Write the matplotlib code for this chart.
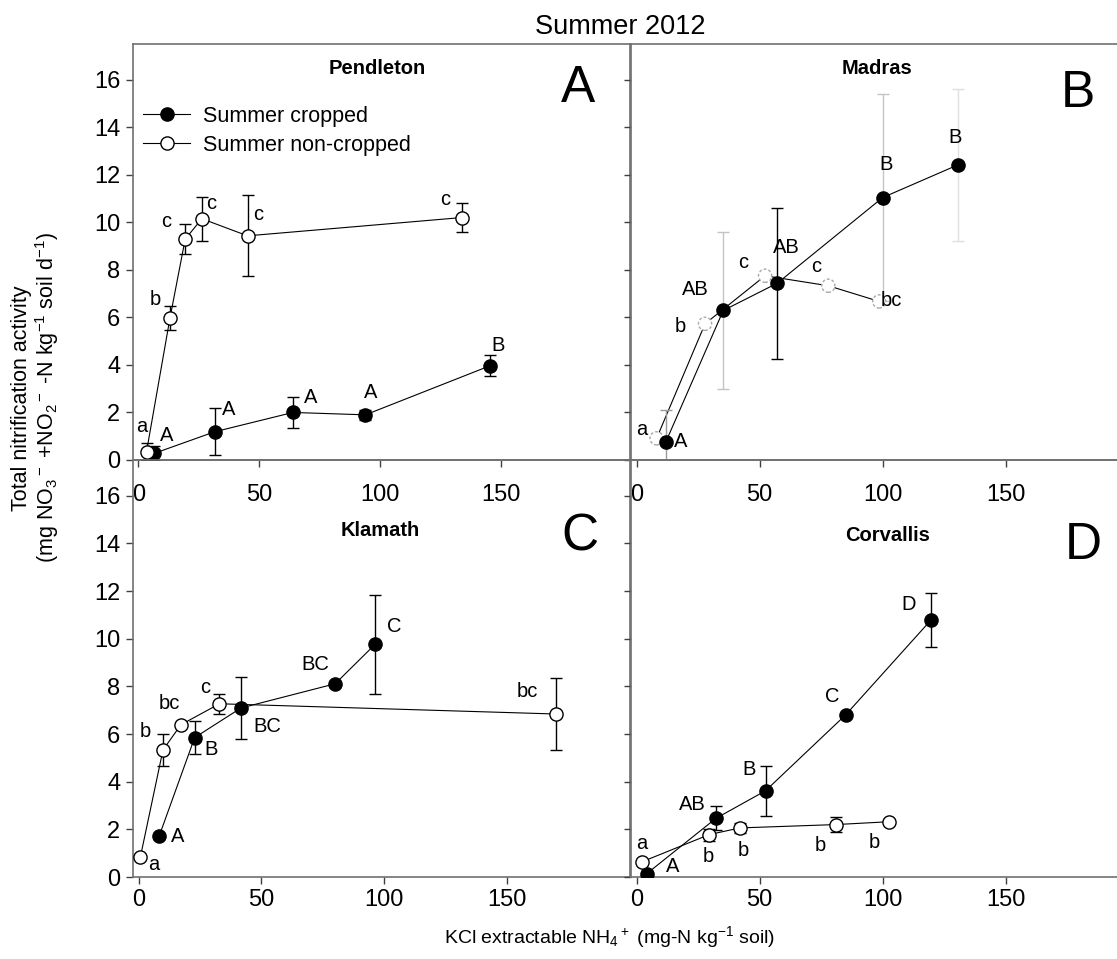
import numpy as np
import matplotlib.pyplot as plt

plt.rcParams['font.family'] = ['Liberation Sans', 'DejaVu Sans']
plt.rcParams['mathtext.fontset'] = 'custom'
plt.rcParams['mathtext.rm'] = 'Liberation Sans'
plt.rcParams['mathtext.it'] = 'Liberation Sans'
plt.rcParams['mathtext.default'] = 'regular'

# ---- data ----
sites = ['Pendleton', 'Madras', 'Klamath', 'Corvallis']
letters = ['A', 'B', 'C', 'D']

pend_crop_x = [6.6, 31.7, 64.0, 94.0, 145.7]
pend_crop_y = [0.28, 1.19, 2.00, 1.90, 3.97]
pend_crop_err = [0.30, 1.00, 0.64, 0.22, 0.45]
pend_crop_lab = ['A', 'A', 'A', 'A', 'B']
pend_non_x = [3.4, 13.1, 19.4, 26.3, 45.2, 134.0]
pend_non_y = [0.35, 5.97, 9.29, 10.15, 9.43, 10.20]
pend_non_err = [0.35, 0.52, 0.64, 0.92, 1.70, 0.60]
pend_non_lab = ['a', 'b', 'c', 'c', 'c', 'c']

mad_crop_x = [11.9, 35.2, 57.2, 100.0, 130.7]
mad_crop_y = [0.77, 6.29, 7.44, 11.04, 12.42]
mad_crop_err = [1.33, 3.30, 3.18, 4.35, 3.20]
mad_crop_lab = ['A', 'AB', 'AB', 'B', 'B']
mad_non_x = [8.1, 27.8, 52.2, 77.9, 98.6]
mad_non_y = [0.91, 5.73, 7.75, 7.33, 6.67]
mad_non_err = [0, 0, 0, 0, 0]
mad_non_lab = ['a', 'b', 'c', 'c', 'bc']

klam_crop_x = [8.4, 22.8, 41.6, 80.0, 96.2]
klam_crop_y = [1.73, 5.85, 7.09, 8.11, 9.76]
klam_crop_err = [0, 0.68, 1.30, 0, 2.07]
klam_crop_lab = ['A', 'B', 'BC', 'BC', 'C']
klam_non_x = [0.7, 9.9, 17.2, 32.9, 169.8]
klam_non_y = [0.84, 5.33, 6.39, 7.27, 6.84]
klam_non_err = [0, 0.67, 0, 0.42, 1.50]
klam_non_lab = ['a', 'b', 'bc', 'c', 'bc']

corv_crop_x = [4.1, 32.2, 52.4, 85.0, 119.6]
corv_crop_y = [0.14, 2.46, 3.62, 6.81, 10.78]
corv_crop_err = [0, 0.50, 1.05, 0, 1.12]
corv_crop_lab = ['A', 'AB', 'B', 'C', 'D']
corv_non_x = [2.0, 29.5, 42.0, 80.9, 102.7]
corv_non_y = [0.63, 1.78, 2.06, 2.20, 2.32]
corv_non_err = [0, 0.25, 0.20, 0.30, 0]
corv_non_lab = ['a', 'b', 'b', 'b', 'b']

# ---- layout (label offsets in pixels, up is positive) ----
crop_off = [
    [(12, 18), (14, 22), (18, 15), (5, 22), (8, 20)],
    [(15, 0), (-28, 21), (9, 36), (3, 33), (-3, 27)],
    [(18, -1), (16, -12), (26, -18), (-20, 19), (19, 18)],
    [(26, 7), (-24, 14), (-17, 21), (-14, 18), (-22, 16)],
]
non_off = [
    [(-5, 25), (-15, 19), (-19, 18), (9, 15), (11, 21), (-17, 18)],
    [(-15, 9), (-25, -3), (-22, 13), (-12, 19), (12, 1)],
    [(13, -8), (-18, 18), (-12, 21), (-14, 16), (-28, 23)],
    [(0, 18), (-1, -22), (3, -23), (-15, -21), (-15, -21)],
]
mad_err_colors = ['#9a9a9a', '#c4c4c4', 'black', '#c4c4c4', '#e0e0e0']

crop = [
    (pend_crop_x, pend_crop_y, pend_crop_err, pend_crop_lab),
    (mad_crop_x, mad_crop_y, mad_crop_err, mad_crop_lab),
    (klam_crop_x, klam_crop_y, klam_crop_err, klam_crop_lab),
    (corv_crop_x, corv_crop_y, corv_crop_err, corv_crop_lab),
]
noncrop = [
    (pend_non_x, pend_non_y, pend_non_err, pend_non_lab),
    (mad_non_x, mad_non_y, mad_non_err, mad_non_lab),
    (klam_non_x, klam_non_y, klam_non_err, klam_non_lab),
    (corv_non_x, corv_non_y, corv_non_err, corv_non_lab),
]

W, H = 1117, 959
fig = plt.figure(figsize=(W / 100, H / 100), dpi=100)

rects = [
    [133 / W, (H - 460) / H, 497 / W, 416 / H],
    [631 / W, (H - 460) / H, 497.7 / W, 416 / H],
    [133 / W, (H - 877) / H, 497 / W, 417 / H],
    [631 / W, (H - 877) / H, 497.7 / W, 417 / H],
]
xlims = [(-2.2, 203.5), (-2.3, 200), (-2.3, 200), (-2.3, 200)]
title_pos = [(0.491, 0.942), (0.494, 0.942), (0.497, 0.830), (0.516, 0.820)]
letter_pos = [(0.895, 0.892), (0.898, 0.880), (0.899, 0.815), (0.908, 0.796)]

spine_col = '#707070'
ms = 9.5
lab_fs = 14.5

for i in range(4):
    ax = fig.add_axes(rects[i])
    ax.patch.set_alpha(0)
    ax.set_xlim(xlims[i])
    ax.set_ylim(0, 17.5)
    ax.set_xticks([0, 50, 100, 150])
    ax.set_yticks(np.arange(0, 17, 2))
    ax.tick_params(direction='out', length=5, width=1, color='#404040',
                   labelsize=17, pad=4)
    if i < 2:
        ax.tick_params(axis='x', pad=12)
    if i in (1, 3):
        ax.set_yticklabels([])
    for s in ax.spines.values():
        s.set_color(spine_col)
        s.set_linewidth(1.2)

    cx, cy, ce, cl = crop[i]
    nx, ny, ne, nl = noncrop[i]

    if i == 1:
        # Madras: faint open markers behind, coloured error bars
        ax.plot(nx, ny, '-', color='black', lw=0.8, zorder=2)
        ax.scatter(nx, ny, s=ms ** 2, facecolors='white', edgecolors='#a8a8a8',
                   linestyles=(0, (2, 1.5)), linewidths=1, zorder=3)
        for x, y, e, c in zip(cx, cy, ce, mad_err_colors):
            ax.errorbar([x], [y], yerr=[e], fmt='none', ecolor=c,
                        elinewidth=1, capsize=4.5, capthick=1, zorder=2.5)
        ax.plot(cx, cy, '-o', color='black', lw=0.8, ms=ms,
                mfc='black', mec='black', zorder=4)
    else:
        ax.errorbar(cx, cy, yerr=ce, fmt='-o', color='black', lw=0.8, ms=ms,
                    mfc='black', mec='black', ecolor='black', elinewidth=1,
                    capsize=4.5, capthick=1, zorder=3)
        ax.errorbar(nx, ny, yerr=ne, fmt='-o', color='black', lw=0.8, ms=ms,
                    mfc='white', mec='black', mew=1, ecolor='black',
                    elinewidth=1, capsize=4.5, capthick=1, zorder=4)

    for x, y, t, o in zip(cx, cy, cl, crop_off[i]):
        ax.annotate(t, (x, y), xytext=o, textcoords='offset pixels',
                    ha='center', va='center', fontsize=lab_fs, zorder=6)
    for x, y, t, o in zip(nx, ny, nl, non_off[i]):
        ax.annotate(t, (x, y), xytext=o, textcoords='offset pixels',
                    ha='center', va='center', fontsize=lab_fs, zorder=6)

    ax.text(*title_pos[i], sites[i], transform=ax.transAxes, ha='center',
            va='center', fontsize=14.5, fontweight='bold')
    ax.text(*letter_pos[i], letters[i], transform=ax.transAxes, ha='center',
            va='center', fontsize=37)

    if i == 0:
        h1, = ax.plot([], [], '-o', color='black', lw=0.8, ms=ms,
                      mfc='black', mec='black')
        h2, = ax.plot([], [], '-o', color='black', lw=0.8, ms=ms,
                      mfc='white', mec='black')
        ax.legend([h1, h2], ['Summer cropped', 'Summer non-cropped'],
                  loc='upper left', bbox_to_anchor=(0.02, 0.851),
                  frameon=False, fontsize=15.5, handlelength=2.2,
                  handletextpad=0.6, labelspacing=0.35, borderpad=0,
                  borderaxespad=0)

fig.text(620 / W, 1 - 27 / H, 'Summer 2012', ha='center', va='center',
         fontsize=19.5)
fig.text(36 / W, 1 - 398 / H,
         'Total nitrification activity\n'
         '(mg NO$_3$$^-$ +NO$_2$$^-$ -N kg$^{-1}$ soil d$^{-1}$)',
         rotation=90, ha='center', va='center', fontsize=15.5,
         multialignment='center', linespacing=1.1)
fig.text(610 / W, 1 - 937 / H,
         'KCl extractable NH$_4$$^+$ (mg-N kg$^{-1}$ soil)',
         ha='center', va='center', fontsize=14)

fig.savefig('out.png', dpi=100)
